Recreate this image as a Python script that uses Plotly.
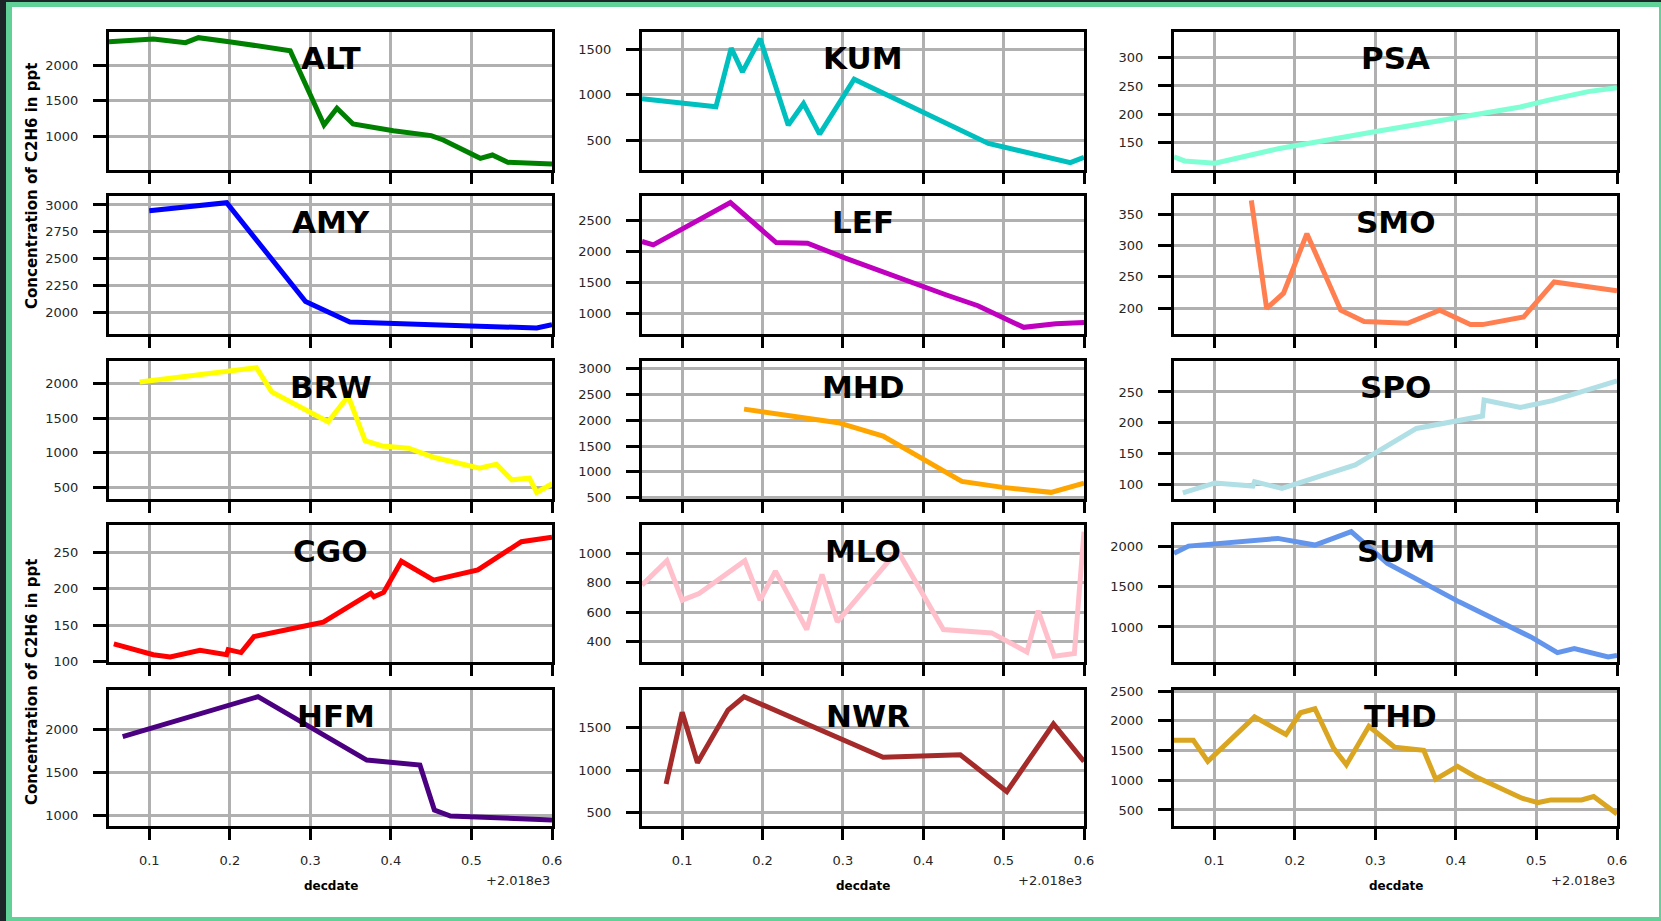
import plotly.graph_objects as go

# ---------------- data ----------------
OFFSET = 2018.0
stations = ["ALT", "KUM", "PSA", "AMY", "LEF", "SMO", "BRW", "MHD", "SPO",
            "CGO", "MLO", "SUM", "HFM", "NWR", "THD"]
colors = ["#008000", "#00bfbf", "#7fffd4", "#0000ff", "#bf00bf", "#ff7f50",
          "#ffff00", "#ffa500", "#b0e0e6", "#ff0000", "#ffc0cb", "#6495ed",
          "#4b0082", "#a52a2a", "#daa520"]

alt_x = [0.05, 0.105, 0.145, 0.161, 0.199, 0.275, 0.317, 0.333, 0.353, 0.403, 0.45, 0.465, 0.511, 0.526, 0.545, 0.6]
alt_y = [2329, 2366, 2315, 2385, 2329, 2202, 1155, 1390, 1169, 1075, 1005, 944, 685, 732, 629, 606]

kum_x = [0.05, 0.142, 0.161, 0.175, 0.197, 0.232, 0.251, 0.271, 0.314, 0.481, 0.583, 0.6]
kum_y = [956, 868, 1518, 1254, 1621, 665, 904, 566, 1173, 463, 250, 309]

psa_x = [0.05, 0.063, 0.101, 0.181, 0.306, 0.404, 0.48, 0.515, 0.564, 0.6]
psa_y = [125, 118, 114, 140, 171, 195, 213, 225, 240, 247]

amy_x = [0.1, 0.196, 0.294, 0.349, 0.451, 0.581, 0.6]
amy_y = [2947, 3022, 2099, 1907, 1882, 1851, 1882]

lef_x = [0.05, 0.064, 0.16, 0.217, 0.256, 0.303, 0.428, 0.468, 0.525, 0.565, 0.6]
lef_y = [2163, 2109, 2789, 2146, 2136, 1895, 1306, 1129, 781, 840, 861]

smo_x = [0.146, 0.165, 0.186, 0.215, 0.257, 0.286, 0.34, 0.38, 0.418, 0.433, 0.484, 0.522, 0.6]
smo_y = [372, 200, 224, 319, 197, 179, 176, 197, 174, 174, 186, 242, 228]

brw_x = [0.088, 0.233, 0.252, 0.322, 0.347, 0.368, 0.389, 0.422, 0.453, 0.484, 0.51, 0.531, 0.55, 0.572, 0.581, 0.6]
brw_y = [2024, 2230, 1880, 1449, 1818, 1176, 1099, 1066, 936, 840, 778, 836, 610, 634, 428, 553]

mhd_x = [0.177, 0.294, 0.35, 0.401, 0.448, 0.499, 0.559, 0.6]
mhd_y = [2216, 1952, 1695, 1233, 815, 699, 603, 783]

spo_x = [0.061, 0.101, 0.148, 0.15, 0.184, 0.275, 0.351, 0.433, 0.435, 0.48, 0.52, 0.6]
spo_y = [87, 103, 98, 105, 94, 132, 191, 211, 237, 225, 236, 268]

cgo_x = [0.056, 0.105, 0.126, 0.163, 0.196, 0.198, 0.214, 0.23, 0.299, 0.316, 0.375, 0.379, 0.391, 0.413, 0.453, 0.508, 0.562, 0.6]
cgo_y = [124, 109, 106, 115, 109, 116, 112, 134, 150, 154, 194, 189, 195, 238, 212, 226, 265, 271]

mlo_x = [0.05, 0.081, 0.1, 0.121, 0.178, 0.197, 0.216, 0.255, 0.274, 0.293, 0.368, 0.425, 0.485, 0.529, 0.543, 0.563, 0.588, 0.6]
mlo_y = [785, 950, 683, 728, 950, 683, 880, 484, 857, 536, 1018, 484, 461, 332, 611, 303, 321, 1147]

sum_x = [0.05, 0.068, 0.179, 0.225, 0.27, 0.315, 0.404, 0.493, 0.526, 0.547, 0.589, 0.6]
sum_y = [1917, 2008, 2104, 2021, 2188, 1792, 1313, 875, 679, 729, 625, 646]

hfm_x = [0.067, 0.235, 0.37, 0.436, 0.454, 0.474, 0.6]
hfm_y = [1912, 2373, 1642, 1585, 1065, 996, 950]

nwr_x = [0.08, 0.1, 0.119, 0.157, 0.177, 0.35, 0.446, 0.504, 0.562, 0.6]
nwr_y = [836, 1676, 1086, 1703, 1859, 1150, 1180, 748, 1540, 1100]

thd_x = [0.05, 0.074, 0.092, 0.15, 0.189, 0.207, 0.225, 0.248, 0.264, 0.292, 0.324, 0.36, 0.375, 0.402, 0.424, 0.458, 0.482, 0.502, 0.518, 0.556, 0.571, 0.6]
thd_y = [1672, 1672, 1317, 2066, 1768, 2134, 2201, 1542, 1261, 1908, 1554, 1503, 1018, 1232, 1063, 838, 697, 624, 669, 669, 725, 432]

x_data = [alt_x, kum_x, psa_x, amy_x, lef_x, smo_x, brw_x, mhd_x, spo_x,
          cgo_x, mlo_x, sum_x, hfm_x, nwr_x, thd_x]
y_data = [alt_y, kum_y, psa_y, amy_y, lef_y, smo_y, brw_y, mhd_y, spo_y,
          cgo_y, mlo_y, sum_y, hfm_y, nwr_y, thd_y]

x_tick_offsets = [0.1, 0.2, 0.3, 0.4, 0.5, 0.6]
x_tick_labels = ["0.1", "0.2", "0.3", "0.4", "0.5", "0.6"]
offset_label = "+2.018e3"
x_label = "decdate"
y_label = "Concentration of C2H6 in ppt"

y_ticks = [
    [1000, 1500, 2000],
    [500, 1000, 1500],
    [150, 200, 250, 300],
    [2000, 2250, 2500, 2750, 3000],
    [1000, 1500, 2000, 2500],
    [200, 250, 300, 350],
    [500, 1000, 1500, 2000],
    [500, 1000, 1500, 2000, 2500, 3000],
    [100, 150, 200, 250],
    [100, 150, 200, 250],
    [400, 600, 800, 1000],
    [1000, 1500, 2000],
    [1000, 1500, 2000],
    [500, 1000, 1500],
    [500, 1000, 1500, 2000, 2500],
]

# ---------------- layout (styles / positions) ----------------
W, H = 1661, 921
y_ranges = [
    [521, 2465], [169, 1695], [102, 345],
    [1795, 3084], [674, 2896], [159, 379],
    [333, 2326], [474, 3148], [77, 300],
    [99, 288], [264, 1192], [563, 2271],
    [881, 2450], [344, 1938], [230, 2517],
]
x_range = [OFFSET + 0.05, OFFSET + 0.6]
col_px = [(109, 552), (642, 1084), (1174, 1617)]
row_px = [(32, 170), (196, 334), (361, 499), (525, 662), (690, 826)]

FONT = "DejaVu Sans"
TICKCOL = "#262626"


def px(x):
    return x / W


def py(y):
    return 1 - y / H


fig = go.Figure()
layout = {}
annotations = []

for i, name in enumerate(stations):
    r, c = divmod(i, 3)
    n = i + 1
    xs = [OFFSET + v for v in x_data[i]]
    fig.add_trace(go.Scatter(
        x=xs, y=y_data[i], mode="lines",
        line=dict(color=colors[i], width=5),
        xaxis=f"x{n}", yaxis=f"y{n}", showlegend=False, hoverinfo="skip",
    ))
    x0, x1 = col_px[c]
    y0, y1 = row_px[r]
    common = dict(
        showline=True, linewidth=3, linecolor="black", mirror=True,
        showgrid=True, gridcolor="#b0b0b0", gridwidth=2.5, zeroline=False,
        ticks="outside", tickwidth=3, tickcolor="black", automargin=False,
        tickfont=dict(family=FONT, size=13, color=TICKCOL),
    )
    layout[f"xaxis{n}"] = dict(
        domain=[px(x0), px(x1)], range=x_range, anchor=f"y{n}",
        tickmode="array", tickvals=[OFFSET + v for v in x_tick_offsets],
        ticktext=x_tick_labels, showticklabels=(r == 4), ticklen=11,
        ticklabelstandoff=9, **common,
    )
    layout[f"yaxis{n}"] = dict(
        domain=[py(y1), py(y0)], range=y_ranges[i], anchor=f"x{n}",
        tickmode="array", tickvals=y_ticks[i],
        ticktext=[str(v) for v in y_ticks[i]], ticklen=13,
        ticklabelstandoff=12, **common,
    )
    shift = 5 if r == 4 else 0
    annotations.append(dict(
        x=px((x0 + x1) / 2 + shift), y=py(y0 + 26), xref="paper", yref="paper",
        text=f"<b>{name}</b>", showarrow=False, xanchor="center", yanchor="middle",
        font=dict(family=FONT, size=31, color="black"),
    ))

for c in range(3):
    x0, x1 = col_px[c]
    annotations.append(dict(
        x=px((x0 + x1) / 2), y=py(886), xref="paper", yref="paper",
        text=f"<b>{x_label}</b>", showarrow=False, xanchor="center", yanchor="middle",
        font=dict(family=FONT, size=12, color="black"),
    ))
    annotations.append(dict(
        x=px(x1), y=py(880), xref="paper", yref="paper",
        text=offset_label, showarrow=False, xanchor="right", yanchor="middle",
        font=dict(family=FONT, size=13, color=TICKCOL),
    ))

for yc in (186, 682):
    annotations.append(dict(
        x=px(32), y=py(yc), xref="paper", yref="paper",
        text=f"<b>{y_label}</b>", showarrow=False, textangle=-90,
        xanchor="center", yanchor="middle",
        font=dict(family=FONT, size=15, color="black"),
    ))

shapes = [
    dict(type="rect", xref="paper", yref="paper", x0=px(6), x1=px(1670),
         y0=py(930), y1=py(2), fillcolor="#62d197", line=dict(width=0), layer="below"),
    dict(type="rect", xref="paper", yref="paper", x0=px(12), x1=px(1659),
         y0=py(917), y1=py(7), fillcolor="white", line=dict(width=0), layer="below"),
]

fig.update_layout(
    template="none",
    width=W, height=H, margin=dict(l=0, r=0, t=0, b=0, pad=0, autoexpand=False),
    paper_bgcolor="#1e2528", plot_bgcolor="rgba(0,0,0,0)",
    annotations=annotations, shapes=shapes, **layout,
)

fig.write_html(
    "out.html",
    config={"displayModeBar": False},
    post_script=(
        "var d=document.getElementById('{plot_id}');"
        "d.style.position='fixed';d.style.left='0px';d.style.top='0px';"
        "document.body.style.margin='0';document.body.style.overflow='hidden';"
    ),
)
